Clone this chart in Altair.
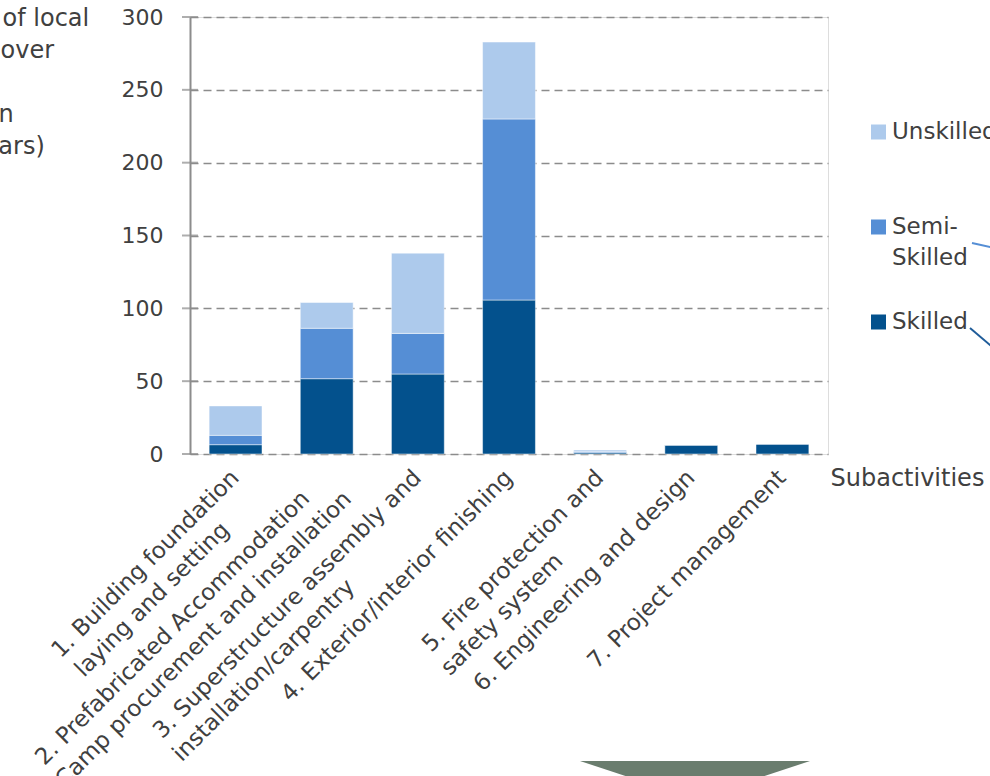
import altair as alt
import pandas as pd

# ---------------- data ----------------
category_lines = [
    ["1. Building foundation", "laying and setting"],
    ["2. Prefabricated Accommodation", "Camp procurement and installation"],
    ["3. Superstructure assembly and", "installation/carpentry"],
    ["4. Exterior/interior finishing"],
    ["5. Fire protection and", "safety system"],
    ["6. Engineering and design"],
    ["7. Project management"],
]
series = ["Skilled", "Semi-Skilled", "Unskilled"]
skilled = [6.4, 51.7, 54.9, 105.7, 0.9, 6.2, 6.9]
semi_skilled = [6.4, 34.6, 27.9, 124.3, 0.7, 0.0, 0.0]
unskilled = [20.2, 17.7, 55.1, 52.8, 1.1, 0.0, 0.0]
y_ticks = [0, 50, 100, 150, 200, 250, 300]
legend_order = ["Unskilled", "Semi-Skilled", "Skilled"]
legend_text = ["Unskilled", "Semi-\nSkilled", "Skilled"]
colors = ["#03518D", "#558ED5", "#ADCAEC"]
y_title = ["Number of local", "workers over", "the", "operation", "(man-years)"]
x_title = "Subactivities"

FONT = "DejaVu Sans"
TXT = "#404040"
GRID = "#8C8C8C"

# DejaVu Sans advance widths (em) - used only to left-align wrapped label lines
W = {" ": .318, ".": .318, "/": .337, "A": .684, "B": .686, "C": .698, "E": .632,
     "F": .575, "P": .603, "S": .635, "a": .613, "b": .635, "c": .550, "d": .635,
     "e": .615, "f": .352, "g": .635, "h": .634, "i": .278, "j": .278, "k": .579,
     "l": .278, "m": .974, "n": .634, "o": .612, "p": .635, "r": .411, "s": .521,
     "t": .392, "u": .634, "v": .592, "x": .592, "y": .592}


def text_width(s):
    return sum(W.get(ch, .636) for ch in s)


def block_label(lines):
    # right-aligned rendering + trailing no-break spaces = left-aligned block
    longest = max(text_width(l) for l in lines)
    out = []
    for l in lines:
        n = int(round((longest - text_width(l)) / W[" "]))
        out.append(l + ("\u00a0" * n + "\u200b" if n else ""))
    return "\n".join(out)


cat_labels = [block_label(l) for l in category_lines]

rows = []
for i, lab in enumerate(cat_labels):
    for k, (s, vals) in enumerate(zip(series, [skilled, semi_skilled, unskilled])):
        rows.append({"cat": lab, "series": s, "value": vals[i], "ord": k})
df = pd.DataFrame(rows)

color_scale = alt.Scale(domain=series, range=colors)
y_scale = alt.Scale(domain=[0, 300], nice=False, zero=True)

bars = alt.Chart(df).mark_bar(stroke="white", strokeWidth=0.8, strokeOpacity=0.6).encode(
    x=alt.X("cat:N", sort=cat_labels,
            scale=alt.Scale(paddingInner=0.42, paddingOuter=0.21),
            axis=alt.Axis(labelExpr="split(datum.label, '\\n')", labelAngle=-45,
                          labelAlign="right", labelBaseline="top", labelPadding=12,
                          labelOffset=-8,
                          labelFontSize=23, labelFont=FONT, labelColor=TXT,
                          labelLineHeight=30, labelLimit=1000, labelOverlap=False,
                          labelFlush=False,
                          domain=False, ticks=False, grid=False,
                          title=x_title, titleFont=FONT, titleFontSize=24,
                          titleFontWeight="normal", titleColor=TXT, titleAngle=0,
                          titleAlign="left", titleBaseline="middle",
                          titleX=640, titleY=24)),
    y=alt.Y("value:Q", stack="zero", scale=y_scale,
            axis=alt.Axis(values=y_ticks, ticks=False, labelPadding=27,
                          labelFontSize=22, labelFont=FONT, labelColor=TXT,
                          domain=True, domainColor=GRID, domainWidth=2,
                          grid=True, gridDash=[8, 5], gridColor=GRID, gridWidth=1.5,
                          title=y_title, titleFont=FONT, titleFontSize=24,
                          titleFontWeight="normal", titleColor=TXT, titleAngle=0,
                          titleAlign="left", titleBaseline="middle",
                          titleLineHeight=32, titleLimit=2000,
                          titleX=-292, titleY=1)),
    color=alt.Color("series:N", scale=color_scale, legend=None),
    order=alt.Order("ord:Q", sort="ascending"),
)

ticks = alt.Chart(pd.DataFrame({"v": y_ticks})).mark_tick(
    orient="horizontal", size=16, thickness=2, color=GRID
).encode(
    x=alt.value(0),
    y=alt.Y("v:Q", scale=y_scale, axis=None),
)

leg_df = pd.DataFrame({"series": legend_order, "text": legend_text})
leg_y = alt.Y("series:N", scale=alt.Scale(type="point", domain=legend_order,
                                          range=[115, 305], padding=0), axis=None)
leg_sq = alt.Chart(leg_df).mark_square(size=225, opacity=1, filled=True).encode(
    x=alt.value(688.5), y=leg_y,
    color=alt.Color("series:N", scale=color_scale, legend=None),
)
leg_tx = alt.Chart(leg_df).mark_text(
    align="left", baseline="middle", font=FONT, fontSize=23, lineHeight=31,
    color=TXT, lineBreak="\n"
).encode(x=alt.value(702), y=leg_y, text="text:N")

one = pd.DataFrame({"k": [0]})
lead_semi = alt.Chart(one).mark_rule(color="#558ED5", strokeWidth=2).encode(
    x=alt.value(782), x2=alt.value(820), y=alt.value(226), y2=alt.value(234.5))
lead_sk = alt.Chart(one).mark_rule(color="#1F5C99", strokeWidth=2).encode(
    x=alt.value(780), x2=alt.value(820), y=alt.value(311), y2=alt.value(345))
arrow = alt.Chart(one).mark_point(
    shape="M -1 0 L 1 0 L 0 0.33 Z", size=52900, filled=True, opacity=1,
    color="#6A7D6E", strokeWidth=0
).encode(x=alt.value(505), y=alt.value(744))

chart = alt.layer(bars, ticks, leg_sq, leg_tx, lead_semi, lead_sk, arrow).resolve_scale(
    y="independent"
).properties(
    width=638, height=437,
    autosize=alt.AutoSizeParams(type="none"),
    padding={"left": 190, "top": 17, "right": 162, "bottom": 322},
    background="white",
).configure_view(stroke=None).configure(font=FONT)

chart.save("out.html", embed_options={"renderer": "svg", "actions": False})
